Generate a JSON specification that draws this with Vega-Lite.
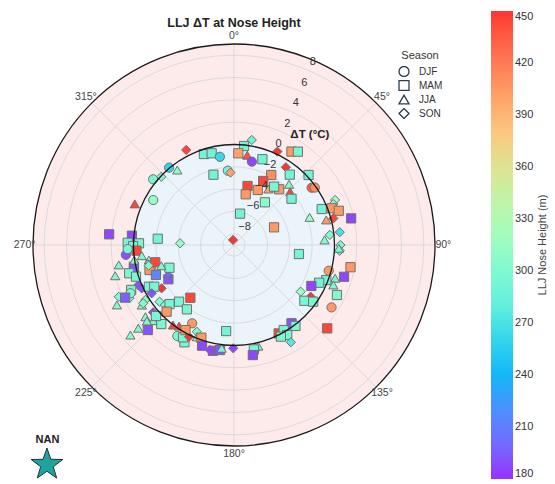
{
  "$schema": "https://vega.github.io/schema/vega-lite/v6.json",
  "width": 402,
  "height": 402,
  "autosize": {"type": "none"},
  "padding": {"left": 33, "top": 44, "right": 120, "bottom": 38},
  "background": "white",
  "config": {"view": {"stroke": null}, "font": "Liberation Sans"},
  "datasets": {
    "regions": [
      {"region": "Positive ΔT", "rmax": 9},
      {"region": "Negative ΔT", "rmax": 0}
    ],
    "inner": [{"rmax": 0}],
    "rings": [{"ring": -8}, {"ring": -6}, {"ring": -4}, {"ring": -2}, {"ring": 2}, {"ring": 4}, {"ring": 6}, {"ring": 8}],
    "edges": [{"ring": 0}, {"ring": 9}],
    "spokes": [
      {"a": 0, "lab": "0°"}, {"a": 45, "lab": "45°"}, {"a": 90, "lab": "90°"}, {"a": 135, "lab": "135°"},
      {"a": 180, "lab": "180°"}, {"a": 225, "lab": "225°"}, {"a": 270, "lab": "270°"}, {"a": 315, "lab": "315°"}
    ],
    "rlabels": [
      {"v": -8, "lab": "−8"}, {"v": -6, "lab": "−6"}, {"v": -4, "lab": "−4"}, {"v": -2, "lab": "−2"},
      {"v": 0, "lab": "0"}, {"v": 2, "lab": "2"}, {"v": 4, "lab": "4"}, {"v": 6, "lab": "6"}, {"v": 8, "lab": "8"}
    ],
    "axislabel": [{"d": 34.6, "t": 2.97, "lab": "ΔT (°C)"}],
    "points": [
      {"d":9.6,"t":0.54,"s":"SON","h":290},{"d":5.8,"t":-0.09,"s":"MAM","h":290},{"d":333.3,"t":0.53,"s":"SON","h":445},
      {"d":341.7,"t":-0.42,"s":"MAM","h":290},{"d":346.3,"t":-0.55,"s":"MAM","h":290},{"d":350.9,"t":-1.0,"s":"DJF","h":262},
      {"d":2.7,"t":-0.78,"s":"MAM","h":400},{"d":8.4,"t":-0.87,"s":"JJA","h":440},{"d":12.1,"t":-1.37,"s":"DJF","h":185},
      {"d":18.3,"t":-0.91,"s":"MAM","h":290},{"d":24.9,"t":0.22,"s":"SON","h":450},{"d":31.6,"t":0.82,"s":"MAM","h":405},
      {"d":34.4,"t":1.13,"s":"MAM","h":295},{"d":33.7,"t":-0.63,"s":"SON","h":450},{"d":28.0,"t":-1.9,"s":"MAM","h":410},
      {"d":38.4,"t":-0.96,"s":"MAM","h":290},{"d":46.8,"t":0.16,"s":"MAM","h":290},{"d":320,"t":0.04,"s":"DJF","h":260},
      {"d":322.9,"t":-0.58,"s":"JJA","h":310},{"d":309.1,"t":0.33,"s":"DJF","h":295},{"d":313.2,"t":-0.07,"s":"SON","h":300},
      {"d":343.7,"t":-2.44,"s":"MAM","h":290},{"d":355.2,"t":-2.32,"s":"DJF","h":290},{"d":357.2,"t":-2.51,"s":"SON","h":400},
      {"d":12.9,"t":-3.58,"s":"MAM","h":445},{"d":24.5,"t":-2.7,"s":"MAM","h":445},{"d":23.4,"t":-3.63,"s":"MAM","h":405},
      {"d":13.0,"t":-4.34,"s":"MAM","h":405},{"d":31.6,"t":-3.11,"s":"JJA","h":400},{"d":39.0,"t":-2.58,"s":"MAM","h":405},
      {"d":34.5,"t":-2.66,"s":"MAM","h":295},{"d":42.2,"t":-1.66,"s":"JJA","h":305},{"d":46.5,"t":-2.07,"s":"JJA","h":445},
      {"d":51.2,"t":-2.39,"s":"MAM","h":290},{"d":35.9,"t":-4.28,"s":"MAM","h":305},{"d":53.6,"t":-0.36,"s":"DJF","h":435},
      {"d":54.6,"t":-0.12,"s":"DJF","h":410},{"d":299.1,"t":-0.72,"s":"DJF","h":310},{"d":292.5,"t":0.62,"s":"JJA","h":445},
      {"d":11.0,"t":-6.14,"s":"MAM","h":290},{"d":349,"t":-8.54,"s":"SON","h":450},{"d":66.2,"t":-5.08,"s":"MAM","h":405},
      {"d":271.8,"t":-4.17,"s":"SON","h":310},{"d":274.7,"t":-2.15,"s":"MAM","h":290},{"d":97.9,"t":-3.13,"s":"MAM","h":290},
      {"d":66.0,"t":0.91,"s":"SON","h":320},{"d":67.6,"t":0.62,"s":"SON","h":300},{"d":69.4,"t":0.34,"s":"MAM","h":405},
      {"d":71.9,"t":0.87,"s":"MAM","h":405},{"d":74.8,"t":-0.44,"s":"JJA","h":405},{"d":75.0,"t":0.21,"s":"SON","h":445},
      {"d":77.2,"t":1.76,"s":"MAM","h":185},{"d":67.7,"t":-0.51,"s":"MAM","h":290},{"d":69.9,"t":-1.79,"s":"JJA","h":315},
      {"d":84.0,"t":-0.37,"s":"SON","h":300},{"d":86.8,"t":-0.88,"s":"JJA","h":305},{"d":83.1,"t":0.54,"s":"SON","h":270},
      {"d":90.0,"t":0.53,"s":"SON","h":295},{"d":93.1,"t":0.48,"s":"SON","h":280},{"d":91.8,"t":0.39,"s":"JJA","h":295},
      {"d":100.8,"t":1.62,"s":"MAM","h":405},{"d":105.2,"t":-0.21,"s":"DJF","h":405},{"d":106.1,"t":1.26,"s":"MAM","h":185},
      {"d":108.2,"t":0.53,"s":"JJA","h":295},{"d":111.9,"t":0.59,"s":"JJA","h":295},{"d":115.9,"t":1.25,"s":"MAM","h":300},
      {"d":110.8,"t":-0.16,"s":"MAM","h":290},{"d":113.9,"t":-0.66,"s":"MAM","h":290},{"d":117.9,"t":-1.16,"s":"MAM","h":185},
      {"d":125.0,"t":-1.71,"s":"SON","h":315},{"d":124.0,"t":-0.72,"s":"SON","h":450},{"d":128.4,"t":-0.96,"s":"MAM","h":295},
      {"d":125.6,"t":-0.28,"s":"MAM","h":295},{"d":122.6,"t":1.37,"s":"DJF","h":405},{"d":131.8,"t":2.2,"s":"MAM","h":445},
      {"d":143.7,"t":-0.3,"s":"MAM","h":190},{"d":142.8,"t":0.1,"s":"MAM","h":295},{"d":153.2,"t":-0.13,"s":"MAM","h":445},
      {"d":149.7,"t":-0.18,"s":"MAM","h":295},{"d":149.4,"t":0.36,"s":"MAM","h":295},{"d":152.9,"t":0.22,"s":"MAM","h":295},
      {"d":149.7,"t":1.09,"s":"SON","h":275},{"d":168.2,"t":0.31,"s":"JJA","h":295},{"d":166.5,"t":0.31,"s":"JJA","h":295},
      {"d":169.2,"t":0.52,"s":"MAM","h":295},{"d":170.3,"t":1.0,"s":"MAM","h":185},{"d":180.4,"t":0.25,"s":"SON","h":185},
      {"d":185.2,"t":-1.26,"s":"MAM","h":290},{"d":219.6,"t":-2.87,"s":"MAM","h":445},{"d":274.9,"t":2.22,"s":"MAM","h":185},
      {"d":275.2,"t":0.18,"s":"MAM","h":185},{"d":271.2,"t":0.52,"s":"MAM","h":295},{"d":271.0,"t":-0.49,"s":"MAM","h":295},
      {"d":269.4,"t":0.04,"s":"MAM","h":290},{"d":266.7,"t":-0.25,"s":"MAM","h":445},{"d":264.8,"t":0.72,"s":"DJF","h":190},
      {"d":267.8,"t":0.53,"s":"DJF","h":295},{"d":260.2,"t":1.47,"s":"JJA","h":300},{"d":255.5,"t":1.99,"s":"JJA","h":300},
      {"d":263.4,"t":-0.69,"s":"JJA","h":300},{"d":260.0,"t":-1.26,"s":"JJA","h":300},{"d":257.8,"t":0.17,"s":"MAM","h":295},
      {"d":256.5,"t":-1.32,"s":"MAM","h":295},{"d":253.5,"t":-1.11,"s":"MAM","h":405},{"d":257.6,"t":-1.78,"s":"MAM","h":445},
      {"d":249.0,"t":-1.51,"s":"MAM","h":215},{"d":242.4,"t":-2.37,"s":"MAM","h":190},{"d":246.7,"t":-2.6,"s":"JJA","h":195},
      {"d":250.6,"t":-2.87,"s":"MAM","h":295},{"d":254.1,"t":-2.23,"s":"JJA","h":300},{"d":256.9,"t":0.2,"s":"MAM","h":190},
      {"d":247.3,"t":0.29,"s":"SON","h":190},{"d":244.8,"t":0.13,"s":"SON","h":190},{"d":239.1,"t":-1.45,"s":"SON","h":450},
      {"d":245.8,"t":2.31,"s":"SON","h":300},{"d":243.0,"t":1.51,"s":"SON","h":300},{"d":246.4,"t":1.05,"s":"MAM","h":295},
      {"d":243.9,"t":-0.51,"s":"MAM","h":295},{"d":242.4,"t":-0.94,"s":"MAM","h":295},{"d":245.0,"t":1.23,"s":"DJF","h":300},
      {"d":244.2,"t":1.83,"s":"MAM","h":195},{"d":242.9,"t":2.78,"s":"JJA","h":300},{"d":236.9,"t":0.85,"s":"JJA","h":300},
      {"d":238.2,"t":0.34,"s":"SON","h":300},{"d":232.7,"t":-0.62,"s":"SON","h":300},{"d":229.0,"t":-0.8,"s":"SON","h":300},
      {"d":227.5,"t":-1.17,"s":"MAM","h":295},{"d":224.1,"t":-1.93,"s":"MAM","h":295},{"d":216.2,"t":-1.86,"s":"MAM","h":295},
      {"d":230.2,"t":0.42,"s":"SON","h":185},{"d":226.6,"t":-0.52,"s":"JJA","h":195},{"d":231.0,"t":1.21,"s":"JJA","h":300},
      {"d":226.9,"t":0.91,"s":"JJA","h":300},{"d":222.6,"t":0.62,"s":"MAM","h":295},{"d":227.7,"t":0.45,"s":"MAM","h":295},
      {"d":225.3,"t":-0.51,"s":"MAM","h":405},{"d":225.4,"t":1.84,"s":"MAM","h":190},{"d":229.0,"t":2.36,"s":"JJA","h":300},
      {"d":229.0,"t":3.29,"s":"JJA","h":305},{"d":217.3,"t":0.01,"s":"JJA","h":445},{"d":214.1,"t":-0.23,"s":"JJA","h":445},
      {"d":208.1,"t":-1.05,"s":"DJF","h":405},{"d":211.9,"t":0.6,"s":"DJF","h":300},{"d":207.0,"t":0.78,"s":"MAM","h":295},
      {"d":208.9,"t":0.45,"s":"MAM","h":295},{"d":203.2,"t":-0.55,"s":"SON","h":300},{"d":202.0,"t":-0.13,"s":"JJA","h":300},
      {"d":206.1,"t":0.15,"s":"SON","h":450},{"d":209.7,"t":-0.23,"s":"MAM","h":405},{"d":199.4,"t":-0.2,"s":"MAM","h":405},
      {"d":197.6,"t":0.46,"s":"MAM","h":185},{"d":191.3,"t":0.66,"s":"MAM","h":185},{"d":187.6,"t":0.49,"s":"MAM","h":190},
      {"d":192.9,"t":0.65,"s":"SON","h":185},{"d":186.8,"t":0.31,"s":"JJA","h":295},{"d":254.9,"t":0.72,"s":"MAM","h":295},
      {"d":261.4,"t":0.03,"s":"JJA","h":300},{"d":256.4,"t":-1.14,"s":"SON","h":300},{"d":252.1,"t":0.22,"s":"MAM","h":295},
      {"d":239.6,"t":-0.45,"s":"SON","h":190},{"d":237.3,"t":0.66,"s":"SON","h":300},{"d":228.9,"t":1.35,"s":"JJA","h":300}
    ]
  },
  "layer": [
    {
      "data": {"name": "regions"},
      "transform": [
        {"filter": "datum.rmax > 0"},
        {"calculate": "datum.rmax + 9", "as": "rr"},
        {"calculate": "0", "as": "cx"}
      ],
      "mark": {"type": "point", "shape": "circle", "filled": true, "fillOpacity": 0.22, "strokeWidth": 0, "opacity": 1},
      "encoding": {
        "x": {"field": "cx", "type": "quantitative", "scale": {"domain": [-18, 18], "nice": false, "zero": false}, "axis": null},
        "y": {"field": "cx", "type": "quantitative", "scale": {"domain": [-18, 18], "nice": false, "zero": false}, "axis": null},
        "size": {"field": "rr", "type": "quantitative", "scale": {"type": "pow", "exponent": 2, "domain": [0, 18], "range": [0, 161604], "zero": true}, "legend": null},
        "fill": {
          "field": "region", "type": "nominal",
          "scale": {"domain": ["Negative ΔT", "Positive ΔT"], "range": ["#a3cbe6", "#f4a3a6"]},
          "legend": null
        }
      }
    },
    {
      "data": {"name": "inner"},
      "transform": [
        {"calculate": "datum.rmax + 9", "as": "rr"},
        {"calculate": "0", "as": "cx"}
      ],
      "mark": {"type": "point", "shape": "circle", "filled": true, "fill": "white", "fillOpacity": 1, "strokeWidth": 0, "opacity": 1},
      "encoding": {
        "x": {"field": "cx", "type": "quantitative", "scale": {"domain": [-18, 18], "nice": false, "zero": false}, "axis": null},
        "y": {"field": "cx", "type": "quantitative", "scale": {"domain": [-18, 18], "nice": false, "zero": false}, "axis": null},
        "size": {"field": "rr", "type": "quantitative", "scale": {"type": "pow", "exponent": 2, "domain": [0, 18], "range": [0, 161604], "zero": true}, "legend": null}
      }
    },
    {
      "data": {"name": "regions"},
      "transform": [
        {"calculate": "datum.rmax > 0 ? 0.0001 : datum.rmax + 9", "as": "rr"},
        {"calculate": "0", "as": "cx"}
      ],
      "mark": {"type": "point", "shape": "circle", "filled": true, "fillOpacity": 0.22, "strokeWidth": 0, "opacity": 1},
      "encoding": {
        "x": {"field": "cx", "type": "quantitative", "scale": {"domain": [-18, 18], "nice": false, "zero": false}, "axis": null},
        "y": {"field": "cx", "type": "quantitative", "scale": {"domain": [-18, 18], "nice": false, "zero": false}, "axis": null},
        "size": {"field": "rr", "type": "quantitative", "scale": {"type": "pow", "exponent": 2, "domain": [0, 18], "range": [0, 161604], "zero": true}, "legend": null},
        "fill": {
          "field": "region", "type": "nominal",
          "scale": {"domain": ["Negative ΔT", "Positive ΔT"], "range": ["#a3cbe6", "#f4a3a6"]},
          "legend": {"orient": "none", "legendX": 341, "legendY": 373, "title": null, "symbolType": "M-2.5,-1H2.5V1H-2.5Z", "symbolSize": 52, "symbolOpacity": 1, "symbolStrokeWidth": 0, "labelFontSize": 10, "labelColor": "#333", "rowPadding": 3, "clipHeight": 11, "labelOffset": 15, "labelFont": "Liberation Sans"}
        }
      }
    },
    {
      "data": {"name": "rings"},
      "transform": [
        {"calculate": "datum.ring + 9", "as": "rr"},
        {"calculate": "0", "as": "cx"}
      ],
      "mark": {"type": "point", "shape": "circle", "filled": false, "stroke": "#d4d4d4", "strokeWidth": 0.8, "opacity": 1},
      "encoding": {
        "x": {"field": "cx", "type": "quantitative", "scale": {"domain": [-18, 18], "nice": false, "zero": false}, "axis": null},
        "y": {"field": "cx", "type": "quantitative", "scale": {"domain": [-18, 18], "nice": false, "zero": false}, "axis": null},
        "size": {"field": "rr", "type": "quantitative", "scale": {"type": "pow", "exponent": 2, "domain": [0, 18], "range": [0, 161604], "zero": true}, "legend": null}
      }
    },
    {
      "data": {"name": "spokes"},
      "transform": [
        {"calculate": "0", "as": "cx"},
        {"calculate": "18*sin(datum.a*PI/180)", "as": "ex"},
        {"calculate": "18*cos(datum.a*PI/180)", "as": "ey"}
      ],
      "mark": {"type": "rule", "stroke": "#d4d4d4", "strokeWidth": 0.8},
      "encoding": {
        "x": {"field": "cx", "type": "quantitative", "scale": {"domain": [-18, 18], "nice": false, "zero": false}, "axis": null},
        "y": {"field": "cx", "type": "quantitative", "scale": {"domain": [-18, 18], "nice": false, "zero": false}, "axis": null},
        "x2": {"field": "ex"},
        "y2": {"field": "ey"}
      }
    },
    {
      "data": {"name": "points"},
      "transform": [
        {"calculate": "(datum.t+9)*sin(datum.d*PI/180)", "as": "px"},
        {"calculate": "(datum.t+9)*cos(datum.d*PI/180)", "as": "py"}
      ],
      "mark": {"type": "point", "filled": true, "opacity": 1, "size": 85, "stroke": "#707070", "strokeWidth": 1},
      "encoding": {
        "x": {"field": "px", "type": "quantitative", "scale": {"domain": [-18, 18], "nice": false, "zero": false}, "axis": null},
        "y": {"field": "py", "type": "quantitative", "scale": {"domain": [-18, 18], "nice": false, "zero": false}, "axis": null},
        "color": {
          "field": "h", "type": "quantitative",
          "scale": {"type": "linear", "domain": [180, 450], "range": ["#9933ff", "#6681fb", "#33c3f0", "#66f0dd", "#99ffc3", "#ccf0a5", "#ffc381", "#ff815b", "#ff3333"]},
          "legend": {"orient": "none", "legendX": 458, "legendY": -33, "direction": "vertical", "gradientLength": 468, "gradientThickness": 22, "values": [180, 210, 240, 270, 300, 330, 360, 390, 420, 450], "labelFontSize": 11, "labelColor": "#333", "labelOffset": 2, "labelOverlap": false, "labelBaseline": "middle", "title": null, "gradientStrokeWidth": 0, "labelFont": "Liberation Sans"}
        },
        "shape": {
          "field": "s", "type": "nominal",
          "scale": {"domain": ["DJF", "MAM", "JJA", "SON"], "range": ["circle", "square", "triangle-up", "diamond"]},
          "legend": {"orient": "none", "legendX": 365, "legendY": 6, "title": "Season", "titleFontSize": 11, "titleFontWeight": "normal", "titleColor": "#333", "titleAnchor": "middle", "labelFontSize": 10, "labelColor": "#333", "symbolSize": 100, "rowPadding": 3, "clipHeight": 11, "labelOffset": 9, "labelFont": "Liberation Sans", "titleFont": "Liberation Sans", "symbolFillColor": "transparent", "symbolStrokeColor": "#2b3d4f", "symbolStrokeWidth": 1.3}
        }
      }
    },
    {
      "data": {"name": "edges"},
      "transform": [
        {"calculate": "datum.ring + 9", "as": "rr"},
        {"calculate": "0", "as": "cx"}
      ],
      "mark": {"type": "point", "shape": "circle", "filled": false, "stroke": "#1a1a1a", "strokeWidth": 1.3, "opacity": 1},
      "encoding": {
        "x": {"field": "cx", "type": "quantitative", "scale": {"domain": [-18, 18], "nice": false, "zero": false}, "axis": null},
        "y": {"field": "cx", "type": "quantitative", "scale": {"domain": [-18, 18], "nice": false, "zero": false}, "axis": null},
        "size": {"field": "rr", "type": "quantitative", "scale": {"type": "pow", "exponent": 2, "domain": [0, 18], "range": [0, 161604], "zero": true}, "legend": null}
      }
    },
    {
      "data": {"name": "spokes"},
      "transform": [
        {"calculate": "18.75*sin(datum.a*PI/180)", "as": "lx"},
        {"calculate": "18.75*cos(datum.a*PI/180)", "as": "ly"}
      ],
      "mark": {"type": "text", "fontSize": 10.5, "color": "#444", "align": "center", "baseline": "middle", "font": "Liberation Sans"},
      "encoding": {
        "x": {"field": "lx", "type": "quantitative", "scale": {"domain": [-18, 18], "nice": false, "zero": false}, "axis": null},
        "y": {"field": "ly", "type": "quantitative", "scale": {"domain": [-18, 18], "nice": false, "zero": false}, "axis": null},
        "text": {"field": "lab", "type": "nominal"}
      }
    },
    {
      "data": {"name": "rlabels"},
      "transform": [
        {"calculate": "(datum.v+9.75)*sin(22.5*PI/180)", "as": "lx"},
        {"calculate": "(datum.v+9.75)*cos(22.5*PI/180)", "as": "ly"}
      ],
      "mark": {"type": "text", "fontSize": 11, "color": "#333", "align": "center", "baseline": "middle", "dx": 3, "font": "Liberation Sans"},
      "encoding": {
        "x": {"field": "lx", "type": "quantitative", "scale": {"domain": [-18, 18], "nice": false, "zero": false}, "axis": null},
        "y": {"field": "ly", "type": "quantitative", "scale": {"domain": [-18, 18], "nice": false, "zero": false}, "axis": null},
        "text": {"field": "lab", "type": "nominal"}
      }
    },
    {
      "data": {"name": "axislabel"},
      "transform": [
        {"calculate": "(datum.t+9)*sin(datum.d*PI/180)", "as": "lx"},
        {"calculate": "(datum.t+9)*cos(datum.d*PI/180)", "as": "ly"}
      ],
      "mark": {"type": "text", "fontSize": 11.5, "fontWeight": "bold", "color": "#222", "align": "center", "baseline": "middle", "font": "Liberation Sans"},
      "encoding": {
        "x": {"field": "lx", "type": "quantitative", "scale": {"domain": [-18, 18], "nice": false, "zero": false}, "axis": null},
        "y": {"field": "ly", "type": "quantitative", "scale": {"domain": [-18, 18], "nice": false, "zero": false}, "axis": null},
        "text": {"field": "lab", "type": "nominal"}
      }
    },
    {
      "data": {"values": [{"lab": "LLJ ΔT at Nose Height"}]},
      "transform": [
        {"calculate": "0", "as": "nx"},
        {"calculate": "19.9", "as": "ny"}
      ],
      "mark": {"type": "text", "fontSize": 12.5, "fontWeight": "bold", "color": "#222", "align": "center", "baseline": "middle", "font": "Liberation Sans"},
      "encoding": {
        "x": {"field": "nx", "type": "quantitative", "scale": {"domain": [-18, 18], "nice": false, "zero": false}, "axis": null},
        "y": {"field": "ny", "type": "quantitative", "scale": {"domain": [-18, 18], "nice": false, "zero": false}, "axis": null},
        "text": {"field": "lab", "type": "nominal"}
      }
    },
    {
      "data": {"values": [{"lab": "LLJ Nose Height (m)"}]},
      "transform": [
        {"calculate": "27.7", "as": "nx"},
        {"calculate": "0", "as": "ny"}
      ],
      "mark": {"type": "text", "fontSize": 11, "color": "#444", "align": "center", "baseline": "middle", "angle": 270, "font": "Liberation Sans"},
      "encoding": {
        "x": {"field": "nx", "type": "quantitative", "scale": {"domain": [-18, 18], "nice": false, "zero": false}, "axis": null},
        "y": {"field": "ny", "type": "quantitative", "scale": {"domain": [-18, 18], "nice": false, "zero": false}, "axis": null},
        "text": {"field": "lab", "type": "nominal"}
      }
    },
    {
      "data": {"values": [{"lab": "NAN"}]},
      "transform": [
        {"calculate": "-16.75", "as": "nx"},
        {"calculate": "-19.67", "as": "ny"}
      ],
      "mark": {"type": "point", "shape": "M0,-1L0.235,-0.324L0.951,-0.309L0.38,0.124L0.588,0.809L0,0.4L-0.588,0.809L-0.38,0.124L-0.951,-0.309L-0.235,-0.324Z", "filled": true, "fill": "#1fa39e", "stroke": "#1d3535", "strokeWidth": 1, "opacity": 1, "size": 1100},
      "encoding": {
        "x": {"field": "nx", "type": "quantitative", "scale": {"domain": [-18, 18], "nice": false, "zero": false}, "axis": null},
        "y": {"field": "ny", "type": "quantitative", "scale": {"domain": [-18, 18], "nice": false, "zero": false}, "axis": null}
      }
    },
    {
      "data": {"values": [{"lab": "NAN"}]},
      "transform": [
        {"calculate": "-16.7", "as": "nx"},
        {"calculate": "-17.46", "as": "ny"}
      ],
      "mark": {"type": "text", "fontSize": 11, "fontWeight": "bold", "color": "#222", "align": "center", "baseline": "middle", "font": "Liberation Sans"},
      "encoding": {
        "x": {"field": "nx", "type": "quantitative", "scale": {"domain": [-18, 18], "nice": false, "zero": false}, "axis": null},
        "y": {"field": "ny", "type": "quantitative", "scale": {"domain": [-18, 18], "nice": false, "zero": false}, "axis": null},
        "text": {"field": "lab", "type": "nominal"}
      }
    }
  ]
}
